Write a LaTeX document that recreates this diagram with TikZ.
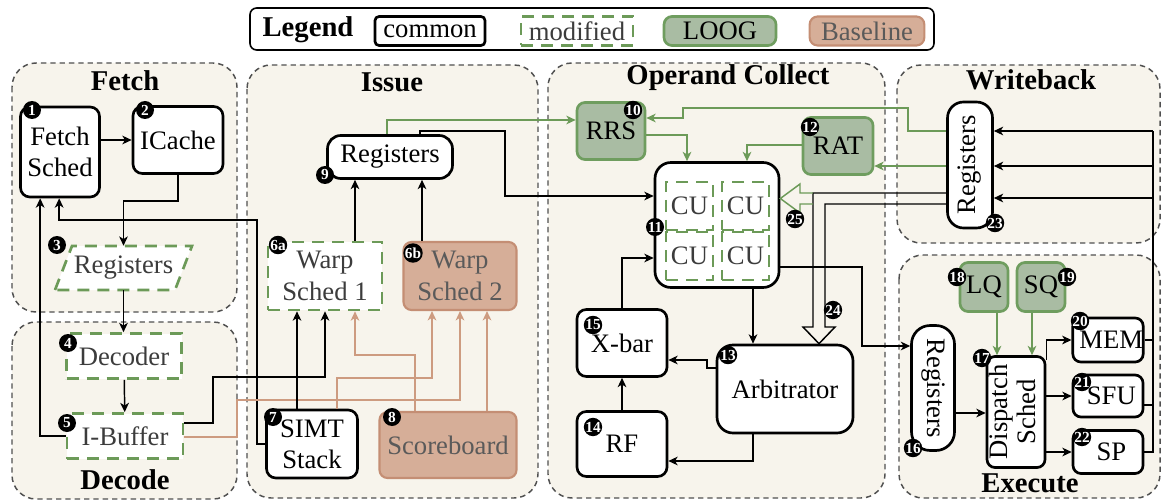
\documentclass[tikz,border=0pt]{standalone}
\usepackage{fontspec}
\setmainfont{Liberation Serif}
\usetikzlibrary{arrows.meta,calc}
\definecolor{panelbg}{HTML}{F7F4EC}
\definecolor{panelgray}{HTML}{505050}
\definecolor{modgreen}{HTML}{6C9A58}
\definecolor{modtext}{HTML}{3C3C3C}
\definecolor{loogfill}{HTML}{A9BCA3}
\definecolor{looggreen}{HTML}{6F9D5F}
\definecolor{basefill}{HTML}{D6AE98}
\definecolor{basebrown}{HTML}{C48E74}
\definecolor{basetext}{HTML}{5A5A5A}
\definecolor{basearrow}{HTML}{CD9B80}
\begin{document}
\begin{tikzpicture}
[x=0.75pt,y=-0.75pt,%
  every node/.style={font=\fontsize{20}{23.5}\selectfont,align=center,inner sep=0pt},%
  box/.style={draw,line width=2pt,rounded corners=7pt,fill=white},%
  modbox/.style={draw=modgreen,line width=2pt,dash pattern=on 9pt off 6pt,fill=white,text=modtext},%
  loog/.style={draw=looggreen,line width=2pt,fill=loogfill,rounded corners=6pt},%
  base/.style={draw=basebrown,line width=1.6pt,fill=basefill,rounded corners=6pt,text=basetext},%
  badge/.style={circle,fill=black,text=white,font=\bfseries\fontsize{11.5}{11.5}\selectfont,minimum size=13.5pt,inner sep=0pt},%
  panel/.style={draw=panelgray,fill=panelbg,line width=1.1pt,dash pattern=on 4pt off 3pt,rounded corners=18pt},%
  title/.style={font=\bfseries\fontsize{21.5}{23}\selectfont},%
  lnk/.style={line width=1.1pt},%
  arr/.style={-{Stealth[length=7pt,width=6.5pt,inset=2pt]},line width=1.1pt},%
  garr/.style={arr,draw=modgreen},%
  barr/.style={arr,draw=basearrow}]
\fill[white] (0,0) rectangle (1162,502);
\useasboundingbox (0,0) rectangle (1162,502);

\draw[line width=1.2pt,rounded corners=5pt] (250,8) rectangle (934,50);
\node[title] (legend) at (308,30) {Legend};
\node[box,rounded corners=3pt,minimum width=82.5pt,minimum height=21.75pt] (lcommon) at (430,31) {common};
\node[modbox,minimum width=84pt,minimum height=21.75pt] (lmod) at (577,31) {modified};
\node[loog,minimum width=84pt,minimum height=21.75pt] (lloog) at (720,31) {LOOG};
\node[base,minimum width=86pt,minimum height=21.75pt] (lbase) at (867,31) {Baseline};

\draw[panel] (12,63) rectangle (237,312);
\draw[panel] (12,322) rectangle (237,499);
\draw[panel] (247,65) rectangle (538,498);
\draw[panel] (548,63) rectangle (885,498);
\draw[panel] (897,65) rectangle (1160,243);
\draw[panel] (899,255) rectangle (1160,498);
\node[title] (tfetch) at (125,81) {Fetch};
\node[title] (tdecode) at (125,480) {Decode};
\node[title] (tissue) at (392,82) {Issue};
\node[title] (toc) at (728,78) {Operand Collect};
\node[title] (twb) at (1031,80) {Writeback};
\node[title] (texe) at (1030,483) {Execute};

\node[box,minimum width=59.25pt,minimum height=67.5pt] (fsched) at (60,152) {Fetch\\Sched};
\node[box,minimum width=67.5pt,minimum height=50.25pt] (icache) at (178,140) {ICache};
\draw[modbox] (55,290) -- (72,246) -- (192,246) -- (175,290) -- cycle;
\node[text=modtext,minimum width=102.75pt,minimum height=33pt] (reg3) at (123.5,268) {Registers};
\node[modbox,minimum width=86.25pt,minimum height=33.75pt] (decoder) at (124,356) {Decoder};
\node[modbox,minimum width=87pt,minimum height=33.75pt] (ibuf) at (125,436) {I-Buffer};

\node[box,rounded corners=10pt,minimum width=93.75pt,minimum height=32.25pt] (reg9) at (390,157) {Registers};
\node[modbox,minimum width=85.5pt,minimum height=51pt] (ws1) at (325,276) {Warp\\Sched 1};
\node[base,minimum width=84.75pt,minimum height=51pt] (ws2) at (460,276) {Warp\\Sched 2};
\node[box,minimum width=68.25pt,minimum height=51pt] (simt) at (312,444) {SIMT\\Stack};
\node[base,minimum width=102.75pt,minimum height=49.5pt] (sb) at (448,445) {\raisebox{-3pt}{Scoreboard}};

\node[loog,minimum width=51pt,minimum height=42.75pt] (rrs) at (611,131) {RRS};
\node[loog,minimum width=52.5pt,minimum height=42.75pt] (rat) at (838,146) {RAT};
\node[box,rounded corners=12pt,minimum width=93pt,minimum height=93.75pt] (cu) at (717,225) {};
\node[modbox,minimum width=35.25pt,minimum height=36pt] (cu1) at (689.5,206) {CU};
\node[modbox,minimum width=35.25pt,minimum height=36pt] (cu2) at (745.5,206) {CU};
\node[modbox,minimum width=35.25pt,minimum height=36pt] (cu3) at (689.5,256) {CU};
\node[modbox,minimum width=35.25pt,minimum height=36pt] (cu4) at (745.5,256) {CU};
\node[box,minimum width=67.5pt,minimum height=50.25pt] (xbar) at (622,343) {\raisebox{-4pt}{X-bar}};
\node[box,minimum width=67.5pt,minimum height=48.75pt] (rf) at (622,444) {\raisebox{-3pt}{RF}};
\node[box,rounded corners=12pt,minimum width=102pt,minimum height=66pt] (arb) at (785,389) {Arbitrator};

\node[box,rounded corners=12pt,minimum width=33.75pt,minimum height=94.5pt] (reg23) at (970,165) {\rotatebox{90}{Registers}};
\node[loog,minimum width=36pt,minimum height=36.75pt] (lq) at (984,287) {\raisebox{-4pt}{LQ}};
\node[loog,minimum width=36pt,minimum height=36.75pt] (sq) at (1041,287) {\raisebox{-4pt}{SQ}};
\node[box,rounded corners=14pt,minimum width=32.25pt,minimum height=93.75pt] (reg16) at (933,388) {\rotatebox{-90}{Registers}};
\node[box,rounded corners=6pt,minimum width=43.5pt,minimum height=83.25pt,font=\fontsize{20}{20.5}\selectfont] (disp) at (1016,412) {\rotatebox{90}{\begin{tabular}{@{}c@{}}Dispatch\\Sched\end{tabular}}};
\node[box,rounded corners=6pt,minimum width=52.5pt,minimum height=33pt] (mem) at (1108,340) {\raisebox{-7pt}{\hspace*{5pt}MEM}};
\node[box,rounded corners=6pt,minimum width=52.5pt,minimum height=31.5pt] (sfu) at (1108,396) {\raisebox{-4pt}{\hspace*{5pt}SFU}};
\node[box,rounded corners=6pt,minimum width=52.5pt,minimum height=32.25pt] (sp) at (1108,452) {\raisebox{-4pt}{\hspace*{5pt}SP}};

\draw[arr] (fsched.east |- icache) -- (icache.west);
\draw[arr] (icache.south) -- ++(0,26) -| (reg3.north);
\draw[arr] (reg3.south) -- (reg3.south |- decoder.north);
\draw[arr] (decoder) -- (ibuf);
\draw[arr] (ibuf.west) -| ($(fsched.south west)+(21,0)$);
\draw[arr] (simt.west) -| (257,220) -| ($(fsched.south west)+(40,0)$);
\draw[arr] ($(ibuf.east)+(0,-13)$) -| (213,377) -| (ws1.south);
\draw[barr] ($(ibuf.east)+(0,1)$) -| (237,400) -| (ws2.south);
\draw[arr] ($(simt.north)+(-15,0)$) -- ($(ws1.south)+(-28,0)$);
\draw[barr] ($(simt.north)+(25,0)$) |- (432,378) -- ($(ws2.south)+(-28,0)$);
\draw[barr] ($(sb.north)+(-33,0)$) |- (355,355) -- ($(ws1.south)+(30,0)$);
\draw[barr] ($(sb.north)+(39,0)$) -- ($(ws2.south)+(27,0)$);
\draw[arr] ($(ws1.north)+(30,0)$) -- ($(reg9.south)+(-35,0)$);
\draw[arr] ($(ws2.north)+(-38,0)$) -- ($(reg9.south)+(32,0)$);

\draw[garr] ($(reg9.north)+(-3,0)$) |- ($(rrs.west)+(0,-11)$);
\draw[arr] ($(reg9.north)+(30,0)$) |- (505,131) |- ($(cu.west)+(0,-29)$);
\draw[garr] ($(rrs.east)+(0,4)$) -| ($(cu.north)+(-30,0)$);
\draw[garr] ($(rat.west)+(0,-1)$) -| ($(cu.north)+(30,0)$);
\draw[garr] ($(reg23.west)+(0,-34)$) -| (908,108) -| (683,118) -- ($(rrs.east)+(0,-13)$);
\draw[garr] ($(reg23.west)+(0,1)$) -- ($(rat.east)+(0,20)$);
\draw[lnk,line join=miter] ($(reg23.west)+(0,28)$) -| (813,327) -- (803,327) -- ($(arb.north)+(34,0)$) -- (835,327) -- (825,327) |- ($(reg23.west)+(0,39)$);
\draw[lnk,draw=modgreen,line join=miter] (813,193) -- (800,193) -- (800,184) -- (cu.east |- 0,198.5) -- (800,213) -- (800,204) -- (813,204);
\draw[arr] ($(cu.south)+(36,0)$) -- ($(arb.north)+(-32,0)$);
\draw[arr] ($(cu.east)+(0,42)$) -| (862,346) -- ($(reg16.west)+(0,-42)$);
\draw[arr] ($(arb.west)+(0,-21)$) -| (707,360) -- ($(xbar.east)+(0,17)$);
\draw[arr] ($(arb.south)+(-32,0)$) |- ($(rf.east)+(0,17)$);
\draw[arr] (rf.north) -- (xbar.south);
\draw[arr] (xbar.north) |- ($(cu.west)+(0,33)$);

\coordinate (bus) at (1153,131);
\draw[lnk] (sp.east) -| (bus);
\draw[lnk] (mem.east) -- (mem.east -| bus);
\draw[lnk] ($(sfu.east)+(0,9)$) -- ($(sfu.east -| bus)+(0,9)$);
\draw[arr] (bus) -- ($(reg23.east)+(0,-34)$);
\draw[arr] ($(bus)+(0,35)$) -- ($(reg23.east)+(0,1)$);
\draw[arr] ($(bus)+(0,67)$) -- ($(reg23.east)+(0,33)$);
\draw[arr] ($(reg16.east)+(0,25)$) -- ($(disp.west)+(0,1)$);
\draw[garr] ($(lq.south)+(13,0)$) -- ($(disp.north)+(-19,0)$);
\draw[garr] ($(sq.south)+(-9,0)$) -- ($(disp.north)+(16,0)$);
\draw[arr] ($(disp.north east)+(0,5)$) |- (mem.west);
\draw[arr] (disp.east |- sfu.west) -- (sfu.west);
\draw[arr] (disp.east |- sp.west) -- (sp.west);

\node[badge] (n1) at (32,110) {1};
\node[badge] (n2) at (145,110) {2};
\node[badge] (n3) at (57,245) {3};
\node[badge] (n4) at (68,343) {4};
\node[badge] (n5) at (67,423) {5};
\node[badge] (n6a) at (278,245) {6a};
\node[badge] (n6b) at (413,253) {6b};
\node[badge] (n7) at (273,417) {7};
\node[badge] (n8) at (392,417) {8};
\node[badge] (n9) at (325,175) {9};
\node[badge] (n10) at (633,110) {10};
\node[badge] (n11) at (655,227) {11};
\node[badge] (n12) at (810,127) {12};
\node[badge] (n13) at (728,355) {13};
\node[badge] (n14) at (593,427) {14};
\node[badge] (n15) at (593,325) {15};
\node[badge] (n16) at (913,448) {16};
\node[badge] (n17) at (982,358) {17};
\node[badge] (n18) at (957,277) {18};
\node[badge] (n19) at (1067,277) {19};
\node[badge] (n20) at (1080,321) {20};
\node[badge] (n21) at (1082,382) {21};
\node[badge] (n22) at (1082,437) {22};
\node[badge] (n23) at (995,223) {23};
\node[badge] (n24) at (833,310) {24};
\node[badge] (n25) at (795,219) {25};
\end{tikzpicture}
\end{document}
